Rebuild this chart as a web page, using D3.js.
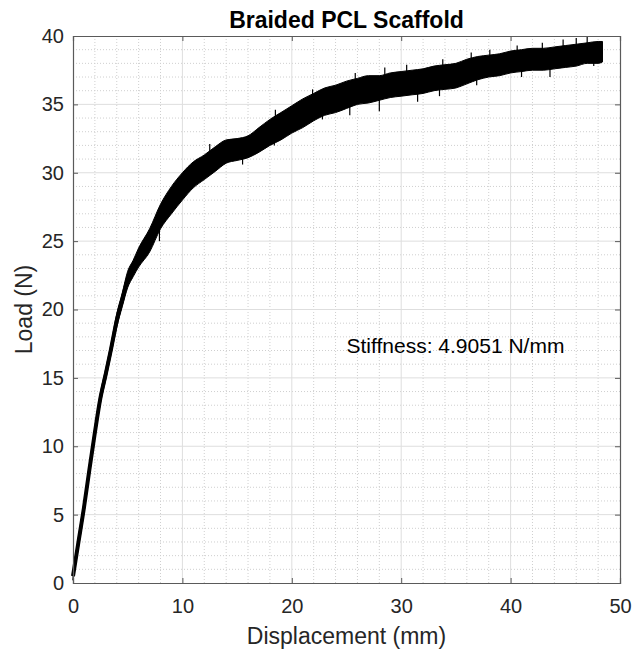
<!DOCTYPE html>
<html>
<head>
<meta charset="utf-8">
<script src="https://cdn.jsdelivr.net/npm/d3@7"></script>
<style>
  body { margin: 0; background: #fff; }
  text { font-family: "Liberation Sans", Arial, Helvetica, sans-serif; }
</style>
</head>
<body>
<div id="chart"></div>
<script>
// valeurs
const displacement = [0, 0.5, 1, 1.5, 2, 2.5, 3, 3.5, 4, 4.5, 5, 5.5, 6, 7, 8, 9, 10, 11, 12, 13, 14, 15, 16, 17, 18, 19, 20,
  21, 22, 23, 24, 25, 26, 27, 28, 29, 30, 31, 32, 33, 34, 35, 36, 37, 38, 39, 40, 41, 42, 43, 44, 45, 46, 47, 48, 48.4]
// bord haut et bord bas de la bande de bruit (N)
const loadHigh = [0.8, 3.4, 5.9, 8.7, 11.4, 13.9, 15.7, 17.6, 19.7, 21.2, 22.8, 23.6, 24.5, 25.9, 27.7, 29.0, 30.0, 30.8, 31.3, 31.9,
  32.4, 32.5, 32.7, 33.3, 33.9, 34.4, 34.9, 35.4, 35.8, 36.2, 36.4, 36.7, 36.9, 37.1, 37.1, 37.3, 37.4, 37.5, 37.6, 37.8, 37.9,
  38.0, 38.3, 38.5, 38.6, 38.7, 38.9, 39.0, 39.1, 39.1, 39.2, 39.3, 39.4, 39.5, 39.6, 39.6]
const loadLow = [0.2, 2.6, 5.1, 7.9, 10.6, 13.1, 14.9, 16.8, 18.7, 20.2, 21.6, 22.4, 23.1, 24.2, 25.9, 27.0, 28.0, 28.9, 29.5, 30.1,
  30.7, 30.9, 31.1, 31.5, 32.0, 32.4, 32.9, 33.3, 33.8, 34.2, 34.4, 34.7, 35.0, 35.1, 35.3, 35.5, 35.6, 35.7, 35.8, 36.0, 36.1,
  36.2, 36.5, 36.8, 37.0, 37.1, 37.3, 37.4, 37.5, 37.5, 37.6, 37.7, 37.8, 38.0, 38.0, 38.1]

// pics isolés visibles au-dessus / au-dessous de la bande
const spikeX = [21.9, 28.5, 33.8, 38.1, 42.9, 44.8, 46, 47, 18.5, 25.8, 30.5, 36.4, 40.6, 12.5,
  25.3, 28, 31.5, 33.5, 41, 43.6, 22.8, 7.9, 15.5, 18.4, 16.4, 36.9, 47.6]
const spikeLoad = [36.1, 37.7, 38.3, 39.0, 39.5, 39.75, 39.85, 39.95, 34.6, 37.3, 37.9, 38.8, 39.3, 32.1,
  34.2, 34.5, 35.2, 35.6, 37.0, 37.0, 33.9, 25.0, 30.6, 32.0, 31.3, 36.4, 37.8]

const xTicks = [0, 10, 20, 30, 40, 50]
const yTicks = [0, 5, 10, 15, 20, 25, 30, 35, 40]
const xMinor = d3.range(0, 51, 2)
const yMinor = d3.range(0, 41, 1)

const data = displacement.map((d, i) => ({x: d, hi: loadHigh[i], lo: loadLow[i], mid: (loadHigh[i] + loadLow[i]) / 2}))
const spikes = spikeX.map((d, i) => ({x: d, tip: spikeLoad[i]}))

const W = 637, H = 656
const margin = {top: 36, right: 17, bottom: 73, left: 73}
const width = W - margin.left - margin.right,
    height = H - margin.top - margin.bottom

const svg = d3.select('#chart').append('svg')
    .attr('width', W)
    .attr('height', H)

const g = svg.append('g')
    .attr('transform', 'translate(' + margin.left + ',' + margin.top + ')')

const x = d3.scaleLinear().domain([0, 50]).range([0, width])
const y = d3.scaleLinear().domain([0, 40]).range([height, 0])

// grille secondaire
g.append('g').selectAll('line').data(xMinor.filter(d => d % 10 !== 0)).join('line')
    .attr('x1', d => x(d)).attr('x2', d => x(d)).attr('y1', 0).attr('y2', height)
    .attr('stroke', '#cfcfcf').attr('stroke-width', 1).attr('stroke-dasharray', '1,2')
g.append('g').selectAll('line').data(yMinor.filter(d => d % 5 !== 0)).join('line')
    .attr('y1', d => y(d)).attr('y2', d => y(d)).attr('x1', 0).attr('x2', width)
    .attr('stroke', '#cfcfcf').attr('stroke-width', 1).attr('stroke-dasharray', '1,2')

// grille principale
g.append('g').selectAll('line').data(xTicks.slice(1, -1)).join('line')
    .attr('x1', d => x(d)).attr('x2', d => x(d)).attr('y1', 0).attr('y2', height)
    .attr('stroke', '#dedede').attr('stroke-width', 1)
g.append('g').selectAll('line').data(yTicks.slice(1, -1)).join('line')
    .attr('y1', d => y(d)).attr('y2', d => y(d)).attr('x1', 0).attr('x2', width)
    .attr('stroke', '#dedede').attr('stroke-width', 1)

// courbe : bande de bruit + trait central
g.append('path')
    .datum(data)
    .attr('d', d3.area().curve(d3.curveMonotoneX).x(d => x(d.x)).y0(d => y(d.lo)).y1(d => y(d.hi)))
    .attr('fill', '#000')
    .attr('stroke', '#000')
    .attr('stroke-width', 1)

g.append('path')
    .datum(data)
    .attr('d', d3.line().curve(d3.curveMonotoneX).x(d => x(d.x)).y(d => y(d.mid)))
    .attr('fill', 'none')
    .attr('stroke', '#000')
    .attr('stroke-width', 4)

const midAt = d => {
    const i = d3.bisectLeft(displacement, d)
    const a = data[Math.max(i - 1, 0)], b = data[Math.min(i, data.length - 1)]
    const t = b.x === a.x ? 0 : (d - a.x) / (b.x - a.x)
    return a.mid + t * (b.mid - a.mid)
}

g.append('g').selectAll('line').data(spikes).join('line')
    .attr('x1', d => x(d.x)).attr('x2', d => x(d.x))
    .attr('y1', d => y(midAt(d.x))).attr('y2', d => y(d.tip))
    .attr('stroke', '#000').attr('stroke-width', 1.2)

// axes
const axisColor = '#5a5a5a'
const xAxis = g.append('g')
    .attr('transform', 'translate(0,' + height + ')')
    .call(d3.axisBottom(x).tickValues(xTicks).tickSize(-5).tickPadding(16))
const xAxisTop = g.append('g')
    .call(d3.axisTop(x).tickValues(xTicks).tickSize(-5).tickFormat(''))
const yAxis = g.append('g')
    .call(d3.axisLeft(y).tickValues(yTicks).tickSize(-5).tickPadding(9))
const yAxisRight = g.append('g')
    .attr('transform', 'translate(' + width + ',0)')
    .call(d3.axisRight(y).tickValues(yTicks).tickSize(-5).tickFormat(''))

;[xAxis, xAxisTop, yAxis, yAxisRight].forEach(a => {
    a.select('.domain').attr('stroke', axisColor).attr('stroke-width', 1.2)
    a.selectAll('.tick line').attr('stroke', axisColor)
    a.selectAll('text').attr('font-size', 20).attr('fill', '#262626')
        .attr('font-family', '"Liberation Sans", Arial, sans-serif')
})

// titre et libellés
svg.append('text')
    .attr('x', margin.left + width / 2)
    .attr('y', 28)
    .attr('text-anchor', 'middle')
    .attr('font-size', 23)
    .attr('font-weight', 'bold')
    .attr('fill', '#000')
    .text('Braided PCL Scaffold')

svg.append('text')
    .attr('x', margin.left + width / 2)
    .attr('y', 644)
    .attr('text-anchor', 'middle')
    .attr('font-size', 23)
    .attr('fill', '#262626')
    .text('Displacement (mm)')

svg.append('text')
    .attr('transform', 'translate(32,' + (margin.top + height / 2) + ') rotate(-90)')
    .attr('text-anchor', 'middle')
    .attr('font-size', 23)
    .attr('fill', '#262626')
    .text('Load (N)')

g.append('text')
    .attr('x', x(25))
    .attr('y', y(16.8))
    .attr('font-size', 21)
    .attr('fill', '#000')
    .text('Stiffness: 4.9051 N/mm')
</script>
</body>
</html>
